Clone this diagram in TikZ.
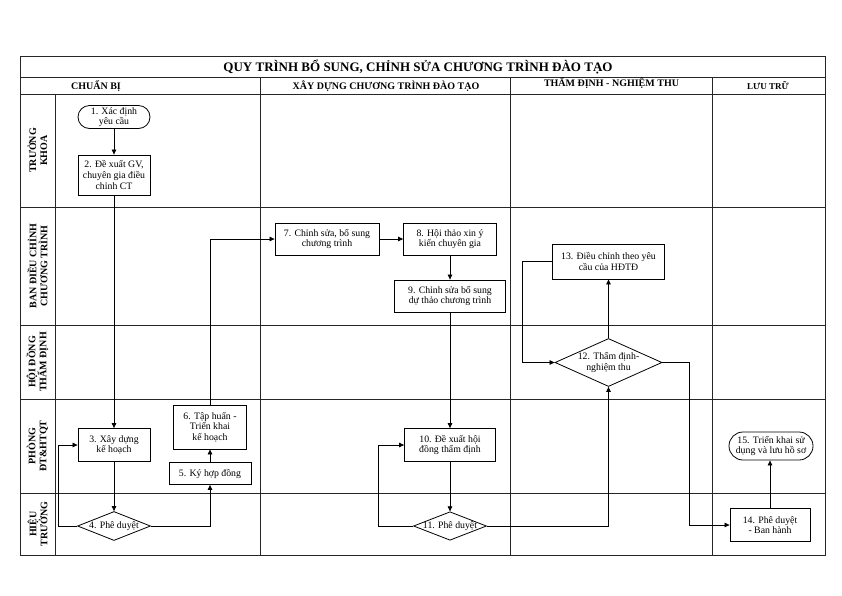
\documentclass[tikz,border=0pt]{standalone}
\usepackage{fontspec}
\setmainfont{Liberation Serif}
\usetikzlibrary{shapes.geometric,arrows.meta}
\tikzset{
  gridline/.style={line width=0.8pt, draw=black!85},
  procbox/.style={draw, line width=0.8pt, align=center, inner sep=0pt, fill=white},
  termbox/.style={draw, line width=0.8pt, align=center, inner sep=0pt, fill=white},
  decbox/.style={draw, line width=0.8pt, shape=diamond, inner sep=0pt, fill=white},
  flow/.style={line width=0.7pt, -{Triangle[length=5pt,width=4.5pt]}},
  hdr/.style={font=\fontsize{10}{11}\selectfont\bfseries, anchor=base},
  lane/.style={font=\fontsize{10}{11}\selectfont\bfseries, rotate=90, align=center}
}
\begin{document}
\begin{tikzpicture}[x=1pt,y=-1pt, font=\fontsize{9.8}{10.6}\selectfont]
\useasboundingbox (0,0) rectangle (842,595);
% grid
\draw[gridline] (20,56) rectangle (825,555);
\draw[gridline] (20,77) -- (825,77);
\draw[gridline] (20,94) -- (825,94);
\foreach \yy in {207,325,399,493} \draw[gridline] (20,\yy) -- (825,\yy);
\draw[gridline] (55,94) -- (55,555);
\foreach \xx in {260,510,712} \draw[gridline] (\xx,77) -- (\xx,555);
% title and headers
\node[font=\fontsize{13}{14}\selectfont\bfseries, anchor=base] (title) at (418,71) {QUY TRÌNH BỔ SUNG, CHỈNH SỬA CHƯƠNG TRÌNH ĐÀO TẠO};
\node[hdr] (h1) at (96,89) {CHUẨN BỊ};
\node[hdr] (h2) at (386,89) {XÂY DỰNG CHƯƠNG TRÌNH ĐÀO TẠO};
\node[hdr] (h3) at (611.5,86) {THẨM ĐỊNH - NGHIỆM THU};
\node[hdr, font=\fontsize{9}{11}\selectfont\bfseries] (h4) at (768,89) {LƯU TRỮ};
% lanes
\node[lane] (l1) at (37.5,150.5) {TRƯỞNG\\KHOA};
\node[lane] (l2) at (37.5,266) {BAN ĐIỀU CHỈNH\\CHƯƠNG TRÌNH};
\node[lane] (l3) at (37.5,362) {HỘI ĐỒNG\\THẨM ĐỊNH};
\node[lane] (l4) at (37.5,446) {PHÒNG\\ĐT\&HTQT};
\node[lane] (l5) at (37.5,524) {HIỆU\\TRƯỞNG};
% nodes
\node[termbox, minimum width=72pt, minimum height=23pt, rounded corners=11.5pt] (n1) at (114,117) {1. Xác định\\yêu cầu};
\node[procbox, minimum width=72pt, minimum height=40pt] (n2) at (114,175) {2. Đề xuất GV,\\chuyên gia điều\\chỉnh CT};
\node[procbox, minimum width=72pt, minimum height=33pt] (n3) at (114,445) {3. Xây dựng\\kế hoạch};
\node[decbox, minimum width=73pt, minimum height=29pt, label={center:{4. Phê duyệt}}] (n4) at (114,526) {};
\node[procbox, minimum width=82pt, minimum height=22pt] (n5) at (210,473.5) {5. Ký hợp đồng};
\node[procbox, minimum width=73pt, minimum height=44pt] (n6) at (210,427) {6. Tập huấn -\\Triển khai\\kế hoạch};
\node[procbox, minimum width=104pt, minimum height=32pt] (n7) at (327,239) {7. Chỉnh sửa, bổ sung\\chương trình};
\node[procbox, minimum width=93pt, minimum height=32pt] (n8) at (450,239) {8. Hội thảo xin ý\\kiến chuyên gia};
\node[procbox, minimum width=111pt, minimum height=32pt] (n9) at (450,296) {9. Chỉnh sửa bổ sung\\dự thảo chương trình};
\node[procbox, minimum width=91pt, minimum height=33pt] (n10) at (450,445) {10. Đề xuất hội\\đồng thẩm định};
\node[decbox, minimum width=73pt, minimum height=28.5pt, label={center:{11. Phê duyệt}}] (n11) at (450,526) {};
\node[decbox, minimum width=107pt, minimum height=48pt, label={[align=center]center:{12. Thẩm định-\\nghiệm thu}}] (n12) at (608.5,362.5) {};
\node[procbox, minimum width=112pt, minimum height=35pt] (n13) at (608.5,261.5) {13. Điều chỉnh theo yêu\\cầu của HĐTĐ};
\node[procbox, minimum width=80pt, minimum height=33pt] (n14) at (770,525) {14. Phê duyệt\\- Ban hành};
\node[termbox, minimum width=84pt, minimum height=28pt, rounded corners=14pt] (n15) at (771,446) {15. Triển khai sử\\dụng và lưu hồ sơ};
% connectors
\draw[flow] (n1) -- (n2);
\draw[flow] (n2) -- (n3);
\draw[flow] (n3) -- (n4);
\draw[flow] (n4.west) -- ++(-18.5,0) |- (n3.west);
\draw[flow] (n4.east) -| (n5.south);
\draw[flow] (n5) -- (n6);
\draw[flow] (n6.north) |- (n7.west);
\draw[flow] (n7) -- (n8);
\draw[flow] (n8) -- (n9);
\draw[flow] (n9) -- (n10);
\draw[flow] (n10) -- (n11);
\draw[flow] (n11.west) -- ++(-34.5,0) |- (n10.west);
\draw[flow] (n11.east) -| (n12.south);
\draw[flow] (n12.north) -- (n13.south);
\draw[flow] (n13.west) -- ++(-30,0) |- (n12.west);
\draw[flow] (n12.east) -- ++(27,0) |- (n14.west);
\draw[flow] (n14.north) -- (n14.north |- n15.south);
\end{tikzpicture}
\end{document}
